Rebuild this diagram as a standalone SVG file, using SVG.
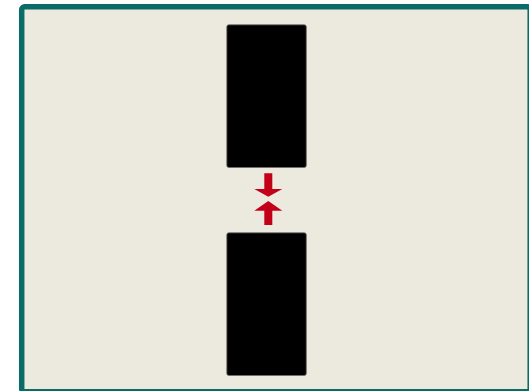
<svg xmlns="http://www.w3.org/2000/svg" width="529" height="391" viewBox="0 0 529 391">
<style>
.blk{fill:#000;stroke:#6e6e66;stroke-width:0.8}
.arr{fill:#c20017}
</style>
<rect width="529" height="391" fill="#ffffff"/>
<g id="panel"><rect x="21.7" y="6.8" width="508.5" height="385" rx="3" fill="#ece9df" stroke="#0b6b66" stroke-width="5.5"/></g>
<g id="upper-block"><rect class="blk" x="226.8" y="24.8" width="79.5" height="142.7" rx="2"/></g>
<g id="lower-block"><rect class="blk" x="226.8" y="232.8" width="79.5" height="142.7" rx="2"/></g>
<g id="connectors">
<polygon class="arr" points="264.3,173.3 272.3,173.3 272.3,189 282.3,189 268.3,196.7 254.3,189 264.3,189"/>
<polygon class="arr" points="264.3,225 272.3,225 272.3,210.7 282.3,210.7 268.3,201 254.3,210.7 264.3,210.7"/>
</g>
</svg>
